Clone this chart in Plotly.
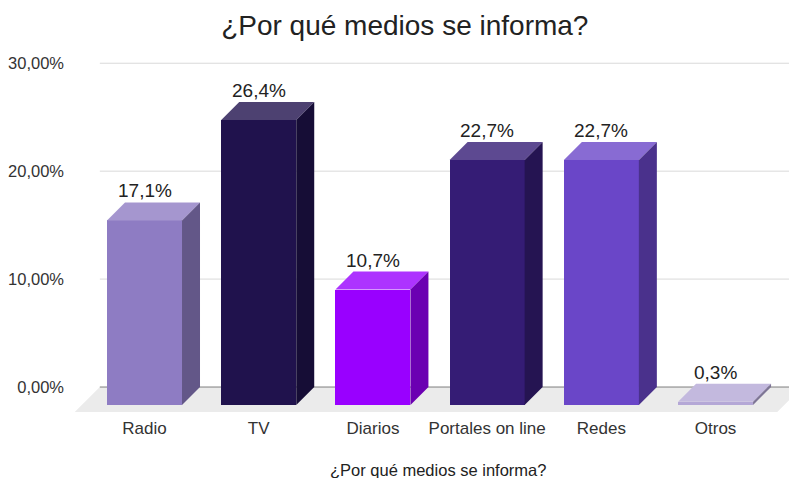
import plotly.graph_objects as go

# ---- data ----
categories = ["Radio", "TV", "Diarios", "Portales on line", "Redes", "Otros"]
values = [17.1, 26.4, 10.7, 22.7, 22.7, 0.3]
bar_colors = ["#8e7cc3", "#20124d", "#9900ff", "#351c75", "#6a46c8", "#b4a7d6"]
y_ticks = [0, 10, 20, 30]
chart_title = "¿Por qué medios se informa?"
x_title = "¿Por qué medios se informa?"

# ---- geometry (pixel-based styling converted to data units) ----
W_PX, H_PX = 789, 478
M_L, M_R, M_T, M_B = 75, 0, 60, 64
X_RANGE = [-0.6086, 5.643]
Y_RANGE = [-2.5, 30.3]
plot_w = W_PX - M_L - M_R
plot_h = H_PX - M_T - M_B
px_per_x = plot_w / (X_RANGE[1] - X_RANGE[0])
px_per_y = plot_h / (Y_RANGE[1] - Y_RANGE[0])

DX = 18 / px_per_x      # depth offset in x
DY = 18 / px_per_y      # depth offset in y
BW = 75 / px_per_x      # bar front width
FDX = 25 / px_per_x     # floor depth
FDY = 25 / px_per_y
FLOOR_X0, FLOOR_X1 = -0.61, 5.54

def mix(hexc, other, f):
    h = hexc.lstrip("#")
    r, g, b = (int(h[i:i + 2], 16) for i in (0, 2, 4))
    o = other
    r = round(r + (o[0] - r) * f)
    g = round(g + (o[1] - g) * f)
    b = round(b + (o[2] - b) * f)
    return f"#{r:02x}{g:02x}{b:02x}"

def lighten(c, f=0.2):
    return mix(c, (255, 255, 255), f)

def darken(c, f=0.3):
    return mix(c, (0, 0, 0), f)

positions = list(range(len(categories)))
FONT = "Liberation Sans, Arial, sans-serif"

fig = go.Figure()

# front faces
fig.add_trace(go.Bar(
    x=positions, y=values, base=[-DY] * len(values), width=BW,
    marker=dict(color=bar_colors, line=dict(width=0)),
    hoverinfo="skip", showlegend=False,
))

# top and side faces
for p, v, c in zip(positions, values, bar_colors):
    xl, xr = p - BW / 2, p + BW / 2
    top_x = [xl, xr, xr + DX, xl + DX, xl]
    top_y = [v - DY, v - DY, v, v, v - DY]
    side_x = [xr, xr + DX, xr + DX, xr, xr]
    side_y = [-DY, 0, v, v - DY, -DY]
    fig.add_trace(go.Scatter(x=top_x, y=top_y, fill="toself", mode="lines",
                             fillcolor=lighten(c), line=dict(width=0, color=lighten(c)),
                             hoverinfo="skip", showlegend=False))
    fig.add_trace(go.Scatter(x=side_x, y=side_y, fill="toself", mode="lines",
                             fillcolor=darken(c), line=dict(width=0, color=darken(c)),
                             hoverinfo="skip", showlegend=False))

shapes = []
# floor
shapes.append(dict(
    type="path", xref="x", yref="y", layer="below",
    path=(f"M {FLOOR_X0},{-FDY} L {FLOOR_X1},{-FDY} "
          f"L {FLOOR_X1 + FDX},0 L {FLOOR_X0 + FDX},0 Z"),
    fillcolor="#ebebeb", line=dict(width=0),
))
# gridlines on the back plane
for t in y_ticks:
    shapes.append(dict(
        type="line", xref="x", yref="y", layer="below",
        x0=FLOOR_X0 + FDX, x1=X_RANGE[1] + 1, y0=t, y1=t,
        line=dict(color="#7f7f7f" if t == 0 else "#d9d9d9", width=1),
    ))

annotations = []
for p, v in zip(positions, values):
    annotations.append(dict(
        x=p, y=v, xref="x", yref="y", text=f"{v:.1f}".replace(".", ",") + "%",
        showarrow=False, yanchor="middle", yshift=11.5,
        font=dict(family=FONT, size=19, color="#222222"),
    ))
annotations.append(dict(
    x=(437.5 - M_L) / plot_w, y=(H_PX - M_B - 469.5) / plot_h,
    xref="paper", yref="paper",
    text=x_title, showarrow=False, xanchor="center", yanchor="middle",
    font=dict(family=FONT, size=16.5, color="#222222"),
))

fig.update_layout(
    width=W_PX, height=H_PX,
    margin=dict(l=M_L, r=M_R, t=M_T, b=M_B),
    paper_bgcolor="white", plot_bgcolor="white",
    title=dict(text=chart_title, x=404.8 / W_PX, xanchor="center",
               y=1 - 25 / H_PX, yanchor="middle",
               font=dict(family=FONT, size=28, color="#222222")),
    xaxis=dict(range=X_RANGE, tickvals=positions, ticktext=categories,
               showgrid=False, zeroline=False, showline=False, ticks="",
               ticklabelstandoff=2,
               tickfont=dict(family=FONT, size=17, color="#333333"),
               fixedrange=True),
    yaxis=dict(range=Y_RANGE, tickvals=y_ticks,
               ticktext=[f"{t:.2f}".replace(".", ",") + "%" for t in y_ticks],
               showgrid=False, zeroline=False, showline=False, ticks="",
               ticklabelstandoff=10,
               tickfont=dict(family=FONT, size=16.5, color="#333333"),
               fixedrange=True),
    shapes=shapes, annotations=annotations,
    bargap=0,
)

fig.write_html("out.html", config={"displayModeBar": False})
